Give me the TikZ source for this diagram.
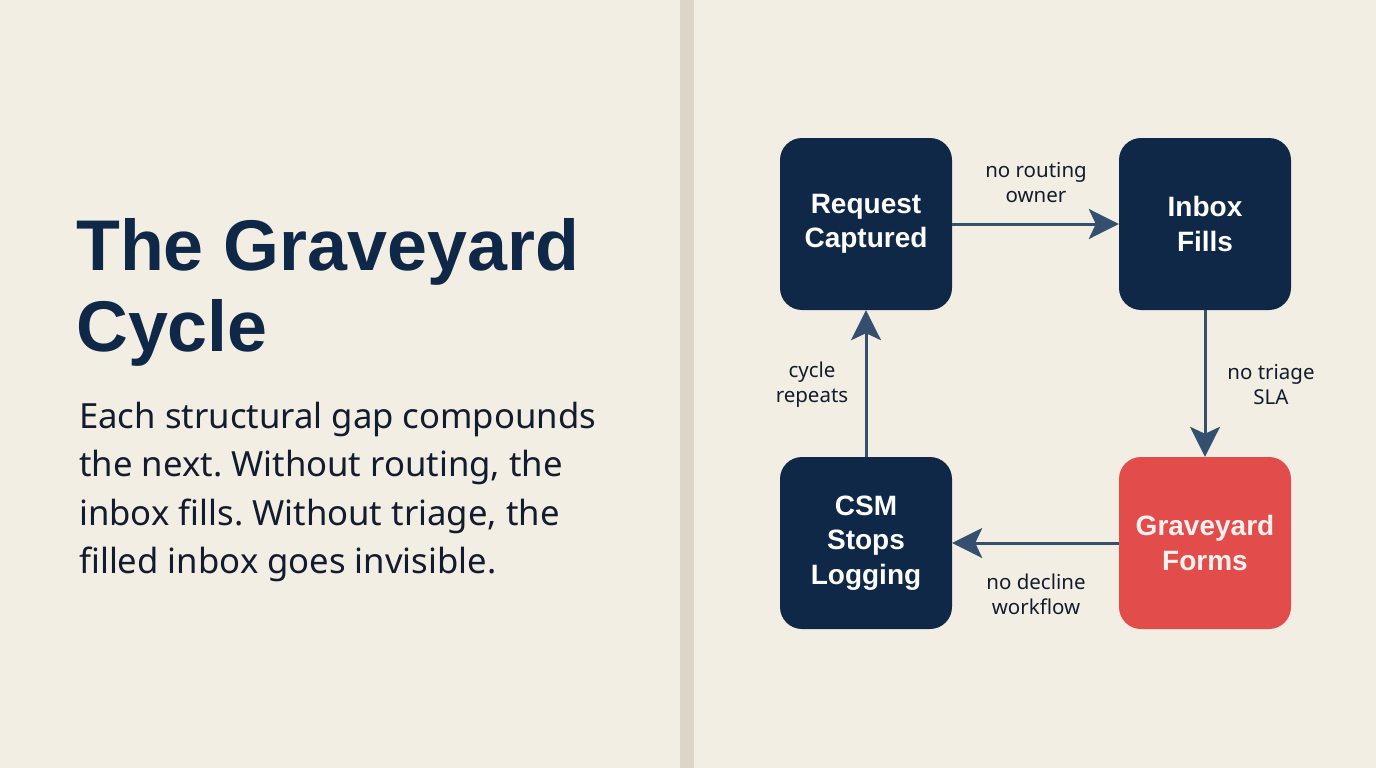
\documentclass[tikz,border=0pt]{standalone}
\usepackage{fontspec}
\setmainfont{Noto Sans}
\newfontfamily\headfam{Liberation Sans}
\frenchspacing
\usetikzlibrary{arrows.meta}
\definecolor{bgc}{HTML}{F3EEE3}
\definecolor{divc}{HTML}{DDD5C9}
\definecolor{navy}{HTML}{0F2847}
\definecolor{redc}{HTML}{E24C4A}
\definecolor{arrc}{HTML}{34506E}
\definecolor{txtc}{HTML}{131C2E}
\tikzset{
  box/.style={rounded corners=22pt, minimum width=172pt, minimum height=172pt, inner sep=0pt, text=white, font=\headfam\fontsize{28}{34.5}\selectfont\bfseries, align=center},
  darkbox/.style={box, fill=navy},
  redbox/.style={box, fill=redc, text=white!92!redc},
  flow/.style={draw=arrc, line width=3pt, -{Stealth[length=30pt, width=30pt, inset=7pt]}},
  lbl/.style={text=txtc, font=\fontsize{20.5}{25}\selectfont, align=center, inner sep=0pt},
  ttl/.style={anchor=base west, inner sep=0pt, text=navy, font=\headfam\fontsize{71.8}{80}\selectfont\bfseries},
  bdy/.style={anchor=base west, inner sep=0pt, text=txtc, font=\fontsize{34.7}{48}\selectfont}
}
\begin{document}
\begin{tikzpicture}[x=1pt,y=-1pt]
\fill[bgc] (0,0) rectangle (1376,768);
\useasboundingbox (0,0) rectangle (1376,768);
\fill[divc] (680,0) rectangle (694,768);
% left text
\node[ttl] (t1) at (76,270) {The Graveyard};
\node[ttl] (t2) at (76,351) {Cycle};
\node[bdy] (b1) at (79,428) {Each structural gap compounds};
\node[bdy] (b2) at (79,476) {the next. Without routing, the};
\node[bdy] (b3) at (79,525) {inbox fills. Without triage, the};
\node[bdy] (b4) at (79,573) {filled inbox goes invisible.};
% boxes
\node[darkbox] (req) at (866,224) {Request\\Captured};
\node[darkbox] (inb) at (1205,224) {Inbox\\Fills};
\node[redbox] (grv) at (1205,543) {Graveyard\\Forms};
\node[darkbox] (csm) at (866,543) {CSM\\Stops\\Logging};
% arrows
\draw[flow] (req) -- (inb);
\draw[flow] (inb) -- (grv);
\draw[flow] (grv) -- (csm);
\draw[flow] (csm) -- (req);
% labels
\node[lbl] (l1) at (1036,183) {no routing\\owner};
\node[lbl] (l2) at (1271,385) {no triage\\SLA};
\node[lbl] (l3) at (1036,594) {no decline\\workflow};
\node[lbl] (l4) at (812,385) {cycle\\repeats};
\end{tikzpicture}
\end{document}
